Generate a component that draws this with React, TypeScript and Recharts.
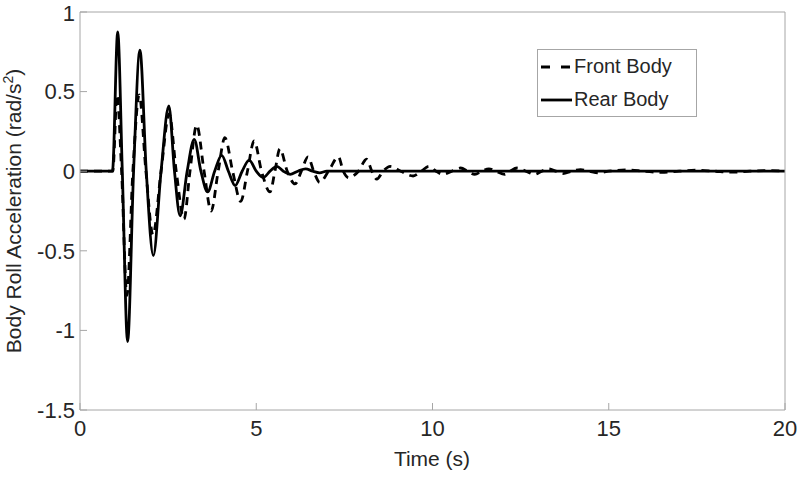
import React from "react";
import { LineChart, Line, XAxis, YAxis, Legend } from "recharts";

// values (peaks, troughs and zero crossings)
const frontTime = [
  0, 0.93, 1.05, 1.18, 1.33, 1.5, 1.68, 1.87, 2.07, 2.3,
  2.53, 2.73, 2.95, 3.12, 3.31, 3.52, 3.72, 3.92, 4.11, 4.33,
  4.56, 4.75, 4.94, 5.15, 5.39, 5.53, 5.67, 5.88, 6.1, 6.28,
  6.47, 6.63, 6.8, 7.05, 7.33, 7.47, 7.62, 7.9, 8.13, 8.28,
  8.42, 8.6, 8.8, 9.1, 9.45, 9.68, 9.9, 10.1, 10.3, 10.55,
  10.8, 11.0, 11.2, 11.4, 11.6, 11.8, 12.05, 12.2, 12.4, 12.65,
  12.9, 13.1, 13.3, 13.5, 13.7, 13.95, 14.2, 14.45, 14.7, 15.0,
  15.5, 16.0, 16.5, 17.0, 17.5, 18.0, 18.5, 19.0, 19.5, 20,
];
const frontAccel = [
  0, 0, 0.48, 0, -0.78, 0, 0.48, 0, -0.4, 0,
  0.36, 0, -0.3, 0, 0.29, 0, -0.25, 0, 0.21, 0,
  -0.19, 0, 0.19, 0, -0.13, 0, 0.14, 0, -0.08, 0,
  0.09, 0, -0.07, 0, 0.09, 0, -0.04, 0, 0.075, 0,
  -0.05, 0, 0.03, 0, -0.03, 0, 0.03, 0, -0.02, 0,
  0.02, 0, -0.02, 0, 0.015, 0, -0.02, 0, 0.02, 0,
  -0.02, 0, 0.015, 0, -0.015, 0, 0.01, 0, -0.01, 0,
  0.008, 0, -0.008, 0, 0.006, 0, -0.006, 0, 0.004, 0,
];

const rearTime = [
  0, 0.92, 1.07, 1.2, 1.35, 1.52, 1.7, 1.88, 2.08, 2.3,
  2.52, 2.68, 2.84, 3.04, 3.24, 3.43, 3.62, 3.82, 4.02, 4.21,
  4.4, 4.6, 4.8, 5.0, 5.2, 5.39, 5.58, 5.77, 5.96, 6.18,
  6.4, 6.6, 6.8, 7.0, 7.3, 20,
];
const rearAccel = [
  0, 0, 0.875, 0, -1.07, 0, 0.76, 0, -0.53, 0,
  0.41, 0, -0.28, 0, 0.2, 0, -0.13, 0, 0.1, 0,
  -0.09, 0, 0.07, 0, -0.04, 0, 0.03, 0, -0.02, 0,
  0.015, 0, -0.01, 0, 0, 0,
];

const xTicks = [0, 5, 10, 15, 20];
const yTicks = [-1.5, -1, -0.5, 0, 0.5, 1];

const frontData = frontTime.map((t, i) => ({ t, v: frontAccel[i] }));
const rearData = rearTime.map((t, i) => ({ t, v: rearAccel[i] }));

const font = "'Liberation Sans', Arial, Helvetica, sans-serif";
const textColor = "#262626";
const axisColor = "#a6a6a6";

const YLabel = () => (
  <text
    x={21}
    y={211}
    transform="rotate(-90, 21, 211)"
    textAnchor="middle"
    fontSize={21}
    fontFamily={font}
    fill={textColor}
  >
    Body Roll Acceleration (rad/s
    <tspan dy={-8} fontSize={14}>
      2
    </tspan>
    <tspan dy={8}>)</tspan>
  </text>
);

const XLabel = () => (
  <text
    x={432}
    y={466}
    textAnchor="middle"
    fontSize={21}
    fontFamily={font}
    fill={textColor}
  >
    Time (s)
  </text>
);

const renderLegend = () => {
  const rows = [
    { name: "Front Body", dash: "9 11" },
    { name: "Rear Body", dash: undefined },
  ];
  return (
    <div
      style={{
        border: `1px solid ${axisColor}`,
        background: "#fff",
        width: 158,
        fontFamily: font,
        fontSize: 20,
        color: textColor,
      }}
    >
      {rows.map((r) => (
        <div
          key={r.name}
          style={{ display: "flex", alignItems: "center", height: 33, paddingLeft: 3 }}
        >
          <svg width={31} height={6} style={{ marginRight: 2 }}>
            <line
              x1={0}
              y1={3}
              x2={31}
              y2={3}
              stroke="#000"
              strokeWidth={2.8}
              strokeDasharray={r.dash}
            />
          </svg>
          <span>{r.name}</span>
        </div>
      ))}
    </div>
  );
};

const App = () => {
  return (
    <div style={{ position: "absolute", left: 0, top: 0, background: "#fff" }}>
      <LineChart
        width={800}
        height={482}
        margin={{ top: 11, right: 14, left: 10, bottom: 12 }}
      >
        <XAxis
          dataKey="t"
          type="number"
          domain={[0, 20]}
          ticks={xTicks}
          stroke={axisColor}
          tickSize={-7}
          tickMargin={17}
          height={60}
          tick={{ fill: textColor, fontSize: 22, fontFamily: font }}
          label={<XLabel />}
        />
        <XAxis
          xAxisId="top"
          dataKey="t"
          orientation="top"
          type="number"
          domain={[0, 20]}
          ticks={xTicks}
          stroke={axisColor}
          tickSize={-7}
          height={1}
          tick={false}
        />
        <YAxis
          type="number"
          domain={[-1.5, 1]}
          ticks={yTicks}
          stroke={axisColor}
          tickSize={-7}
          tickMargin={12}
          width={70}
          tick={{ fill: textColor, fontSize: 22, fontFamily: font }}
          label={<YLabel />}
        />
        <YAxis
          yAxisId="right"
          orientation="right"
          type="number"
          domain={[-1.5, 1]}
          ticks={yTicks}
          stroke={axisColor}
          tickSize={-7}
          width={1}
          tick={false}
        />
        <Legend
          verticalAlign="middle"
          content={renderLegend}
          wrapperStyle={{ left: 537, top: 49, width: 160 }}
        />
        {/* same domains on both axis pairs, so each line also anchors the box axes */}
        <Line
          data={frontData}
          xAxisId="top"
          dataKey="v"
          name="Front Body"
          type="monotone"
          stroke="#000"
          strokeWidth={2.8}
          strokeDasharray="8 6"
          dot={false}
          isAnimationActive={false}
        />
        <Line
          data={rearData}
          yAxisId="right"
          dataKey="v"
          name="Rear Body"
          type="monotone"
          stroke="#000"
          strokeWidth={2.8}
          dot={false}
          isAnimationActive={false}
        />
      </LineChart>
    </div>
  );
};

export default App;
